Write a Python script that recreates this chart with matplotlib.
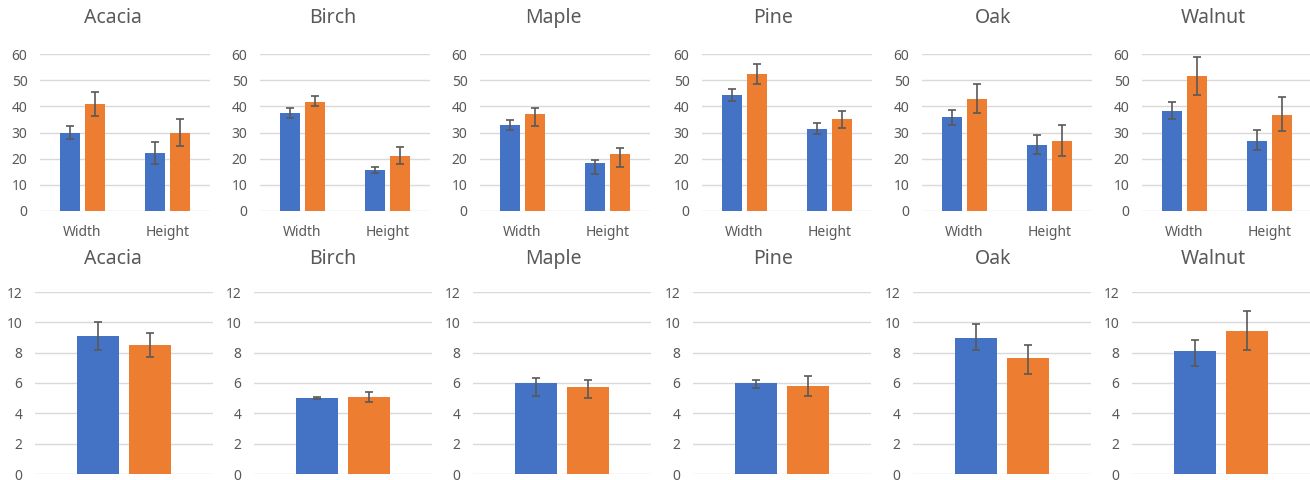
import matplotlib.pyplot as plt
import numpy as np

# Daten
species = ['Acacia', 'Birch', 'Maple', 'Pine', 'Oak', 'Walnut']
dims = ['Width', 'Height']

# obere Reihe: [Width, Height] je Art
top_blue = [[29.8, 22.0], [37.3, 15.6], [33.0, 18.3], [44.3, 31.3], [35.8, 25.4], [38.4, 26.9]]
top_blue_up = [[2.5, 4.2], [1.9, 1.1], [1.9, 1.0], [2.4, 2.2], [2.9, 3.8], [3.2, 3.9]]
top_blue_lo = [[2.2, 4.0], [1.8, 1.2], [2.2, 4.3], [2.4, 1.9], [2.8, 3.7], [3.2, 3.7]]
top_orange = [[40.9, 30.0], [41.8, 21.2], [36.9, 21.7], [52.4, 35.0], [42.7, 26.9], [51.5, 36.7]]
top_orange_up = [[4.4, 5.0], [2.0, 3.4], [2.6, 2.3], [3.8, 3.2], [5.8, 5.9], [7.2, 6.9]]
top_orange_lo = [[4.5, 5.1], [1.8, 3.2], [4.3, 4.7], [3.9, 3.2], [5.4, 6.0], [7.1, 6.3]]

# untere Reihe: ein Wert je Art
bot_blue = [9.11, 5.00, 6.03, 5.99, 9.00, 8.09]
bot_blue_up = [0.92, 0.05, 0.27, 0.22, 0.86, 0.74]
bot_blue_lo = [0.94, 0.08, 0.92, 0.29, 0.85, 0.99]
bot_orange = [8.52, 5.07, 5.73, 5.79, 7.63, 9.46]
bot_orange_up = [0.77, 0.33, 0.48, 0.66, 0.89, 1.27]
bot_orange_lo = [0.78, 0.33, 0.75, 0.65, 1.03, 1.31]

blue = '#4472C4'
orange = '#ED7D31'
grey = '#595959'
grid = '#D9D9D9'

plt.rcParams['font.family'] = ['Noto Sans', 'DejaVu Sans']

W, H = 1310, 480
fig = plt.figure(figsize=(W / 100, H / 100), dpi=100)

top_left = [40, 260, 480, 702, 922, 1142]
bot_left = [35, 254, 473, 693, 913, 1132]
err_kw = dict(ecolor=grey, elinewidth=1.2, capsize=3, capthick=1.2)
bw = 0.235
off = 0.145


def style(ax, ymax, step):
    ax.set_ylim(0, ymax)
    ax.set_yticks(np.arange(0, ymax + 1, step))
    ax.yaxis.grid(True, color=grid, linewidth=1)
    ax.set_axisbelow(True)
    for s in ax.spines.values():
        s.set_visible(False)
    ax.tick_params(axis='both', length=0, colors=grey, labelsize=10)
    ax.tick_params(axis='y', pad=9)


for i, name in enumerate(species):
    # obere Reihe
    ax = fig.add_axes([top_left[i] / W, 1 - 211 / H, 170 / W, 157 / H])
    x = np.arange(len(dims))
    ax.bar(x - off, top_blue[i], bw, color=blue,
           yerr=[top_blue_lo[i], top_blue_up[i]], error_kw=err_kw)
    ax.bar(x + off, top_orange[i], bw, color=orange,
           yerr=[top_orange_lo[i], top_orange_up[i]], error_kw=err_kw)
    ax.set_xlim(-0.5, 1.5)
    ax.set_xticks(x)
    ax.set_xticklabels(dims)
    style(ax, 60, 10)
    ax.tick_params(axis='x', pad=10)
    fig.text((113 + 220 * i) / W, 1 - 18 / H, name, ha='center', va='center',
             fontsize=14, color=grey)

    # untere Reihe
    ax2 = fig.add_axes([bot_left[i] / W, 1 - 474 / H, 178 / W, 182 / H])
    ax2.bar([-off], [bot_blue[i]], bw, color=blue,
            yerr=[[bot_blue_lo[i]], [bot_blue_up[i]]], error_kw=err_kw)
    ax2.bar([off], [bot_orange[i]], bw, color=orange,
            yerr=[[bot_orange_lo[i]], [bot_orange_up[i]]], error_kw=err_kw)
    ax2.set_xlim(-0.5, 0.5)
    ax2.set_xticks([])
    style(ax2, 12, 2)
    fig.text((113 + 220 * i) / W, 1 - 259 / H, name, ha='center', va='center',
             fontsize=14, color=grey)

fig.savefig('out.png', dpi=100)
